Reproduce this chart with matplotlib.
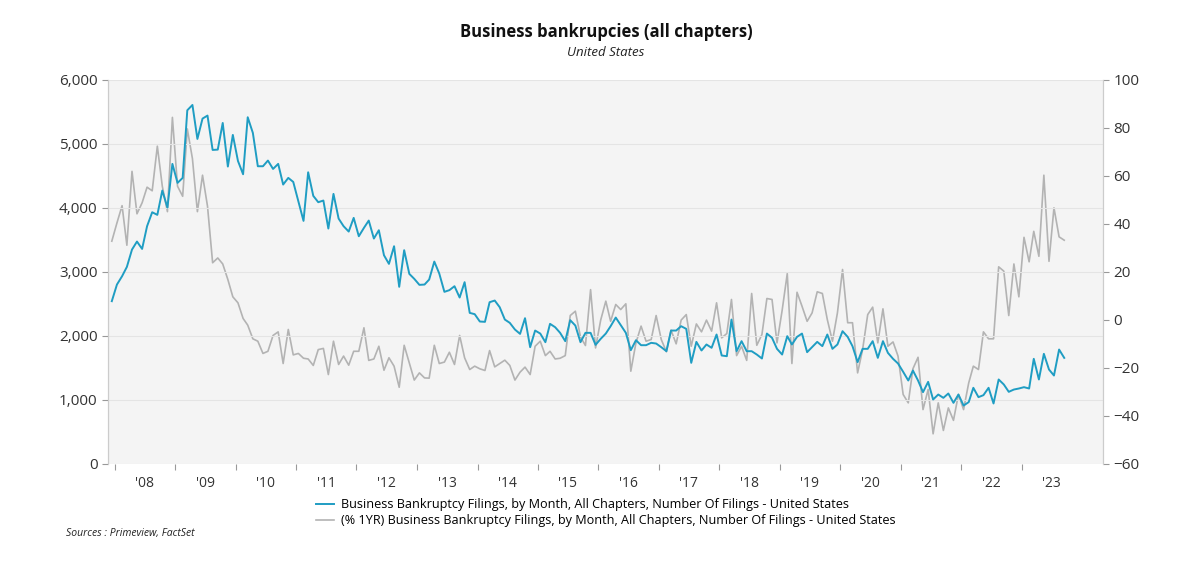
import numpy as np
import pandas as pd
import matplotlib
matplotlib.use("Agg")
import matplotlib.pyplot as plt
import matplotlib.dates as mdates
from matplotlib.ticker import FuncFormatter, FixedLocator

plt.rcParams['font.family'] = ['Open Sans', 'DejaVu Sans']

# monthly business bankruptcy filings (Dec 2007 .. Sep 2023)
filings = [
    2542, 2802, 2932, 3078, 3349, 3474, 3359, 3714, 3932, 3891,
    4271, 4005, 4688, 4391, 4469, 5526, 5609, 5078, 5396, 5443,
    4906, 4911, 5328, 4646, 5141, 4734, 4526, 5417, 5172, 4651,
    4651, 4740, 4609, 4688, 4365, 4469, 4406, 4104, 3797, 4557,
    4188, 4089, 4115, 3677, 4219, 3833, 3714, 3630, 3844, 3557,
    3688, 3802, 3521, 3651, 3260, 3125, 3401, 2766, 3339, 2969,
    2891, 2797, 2802, 2880, 3161, 2974, 2688, 2714, 2776, 2599,
    2839, 2359, 2339, 2224, 2219, 2526, 2552, 2448, 2255, 2203,
    2099, 2031, 2276, 1823, 2083, 2036, 1901, 2188, 2135, 2047,
    1917, 2245, 2161, 1901, 2047, 2047, 1859, 1953, 2036, 2151,
    2286, 2167, 2047, 1776, 1932, 1854, 1854, 1891, 1880, 1823,
    1760, 2083, 2083, 2151, 2109, 1578, 1906, 1771, 1865, 1813,
    2021, 1693, 1682, 2255, 1760, 1917, 1760, 1760, 1708, 1646,
    2036, 1969, 1797, 1708, 1995, 1865, 1984, 2036, 1745, 1823,
    1906, 1839, 2021, 1797, 1865, 2073, 1984, 1839, 1589, 1797,
    1797, 1917, 1656, 1917, 1734, 1641, 1568, 1438, 1302, 1458,
    1302, 1120, 1281, 1005, 1083, 1031, 1099, 953, 1083, 911,
    964, 1188, 1042, 1073, 1188, 943, 1318, 1240, 1125, 1161,
    1177, 1198, 1177, 1641, 1318, 1719, 1474, 1380, 1786, 1656,
]

# year-over-year change, %
yoy = [
    32.8, 40.4, 47.6, 31.1, 61.9, 44.2, 48.8, 55.3, 53.8, 72.4,
    55.7, 45.1, 84.4, 55.7, 51.5, 79.6, 67.2, 45.1, 60.3, 47.4,
    23.8, 25.8, 23.3, 16.8, 9.6, 7.1, 0.6, -2.2, -7.9, -8.9,
    -14.0, -13.1, -6.5, -5.0, -18.2, -4.0, -14.6, -14.0, -16.0, -16.3,
    -19.0, -12.4, -11.9, -22.8, -8.9, -18.6, -15.1, -18.9, -13.1, -13.1,
    -3.3, -16.9, -16.3, -11.0, -21.0, -15.8, -19.3, -28.1, -10.6, -17.9,
    -25.1, -22.1, -24.2, -24.3, -10.6, -18.2, -17.6, -13.5, -18.6, -6.5,
    -15.8, -20.7, -19.3, -20.4, -21.1, -12.8, -19.6, -18.2, -16.8, -19.0,
    -25.1, -21.8, -19.7, -22.8, -11.0, -8.9, -14.9, -13.1, -16.3, -16.0,
    -14.9, 1.8, 3.6, -7.1, -10.7, 12.6, -11.7, -0.1, 7.8, -0.6,
    6.4, 4.3, 6.7, -21.4, -9.6, -2.6, -8.9, -8.2, 1.8, -8.2,
    -13.3, -4.3, -10.0, -0.1, 2.2, -11.0, -1.7, -5.0, -0.1, -4.7,
    7.1, -7.5, -5.7, 8.5, -14.9, -11.0, -16.9, 11.0, -10.6, -6.1,
    8.9, 8.5, -9.6, 3.9, 19.3, -18.2, 11.5, 5.7, -0.6, 2.9,
    11.7, 11.0, 0.1, -8.9, 2.9, 21.0, -1.2, -1.2, -22.1, -12.4,
    2.2, 5.3, -9.6, 4.6, -11.0, -9.2, -15.1, -31.1, -34.6, -20.4,
    -15.6, -37.4, -29.0, -47.5, -34.6, -46.1, -36.7, -41.9, -31.1, -37.4,
    -26.3, -19.3, -20.7, -5.0, -7.9, -7.9, 22.1, 20.3, 1.8, 23.3,
    9.6, 34.4, 24.2, 36.9, 26.5, 60.3, 24.4, 46.7, 34.6, 33.2,
]

years = list(range(2008, 2024))

label_level = "Business Bankruptcy Filings, by Month, All Chapters, Number Of Filings - United States"
label_yoy = "(% 1YR) Business Bankruptcy Filings, by Month, All Chapters, Number Of Filings - United States"

dates = pd.date_range("2007-12-01", periods=len(filings), freq="MS") + pd.Timedelta(days=14)

blue = "#1f9dc3"
grey = "#b3b3b3"

fig = plt.figure(figsize=(12, 5.67), dpi=100)
ax = fig.add_axes([0.09, 0.182, 0.829, 0.677])
ax2 = ax.twinx()

# blue on top of grey: put the left axes in front, background on the twin
ax.set_zorder(ax2.get_zorder() + 1)
ax.patch.set_visible(False)
ax2.patch.set_visible(True)
ax2.patch.set_facecolor("#f4f4f4")

l2, = ax2.plot(dates, yoy, color=grey, lw=1.2)
l1, = ax.plot(dates, filings, color=blue, lw=1.4)

ax.set_ylim(0, 6000)
ax.set_yticks(np.arange(0, 6001, 1000))
ax.yaxis.set_major_formatter(FuncFormatter(lambda v, p: f"{int(v):,}"))
ax2.set_ylim(-60, 100)
ax2.set_yticks(np.arange(-60, 101, 20))

ax.set_xlim(pd.Timestamp("2007-11-22"), pd.Timestamp("2024-05-05"))
year_starts = [mdates.date2num(pd.Timestamp(f"{y}-01-01")) for y in years]
mid_years = [mdates.date2num(pd.Timestamp(f"{y}-07-01")) for y in years]
ax.xaxis.set_major_locator(FixedLocator(year_starts))
ax.xaxis.set_major_formatter(plt.NullFormatter())
ax.xaxis.set_minor_locator(FixedLocator(mid_years))
ax.xaxis.set_minor_formatter(FuncFormatter(lambda v, p: "'" + mdates.num2date(v).strftime("%y")))
ax.tick_params(axis="x", which="minor", length=0, labelsize=10, colors="#333333", pad=9)
ax.tick_params(axis="x", which="major", length=4, color="#999999")

ax.grid(axis="y", color="#e4e4e4", lw=0.8)
ax.tick_params(axis="y", labelsize=11, colors="#333333", length=4, color="#999999")
ax2.tick_params(axis="y", labelsize=11, colors="#333333", length=4, color="#999999")

for a in (ax, ax2):
    a.spines["top"].set_visible(False)
    a.spines["bottom"].set_visible(False)
    a.spines["left"].set_color("#cccccc")
    a.spines["right"].set_color("#cccccc")

fig.text(0.505, 0.944, "Business bankrupcies (all chapters)", ha="center", va="center",
         fontsize=12, fontweight="bold", color="#111111")
fig.text(0.505, 0.907, "United States", ha="center", va="center",
         fontsize=9.5, style="italic", color="#222222")

fig.legend([l1, l2], [label_level, label_yoy], loc="center", bbox_to_anchor=(0.505, 0.096),
           frameon=False, fontsize=9.1, handlelength=1.4, labelspacing=0.25, handletextpad=0.6)

fig.text(0.055, 0.059, "Sources : Primeview, FactSet", ha="left", va="center",
         fontsize=7.5, style="italic", color="#222222")

fig.savefig("out.png", dpi=100)
